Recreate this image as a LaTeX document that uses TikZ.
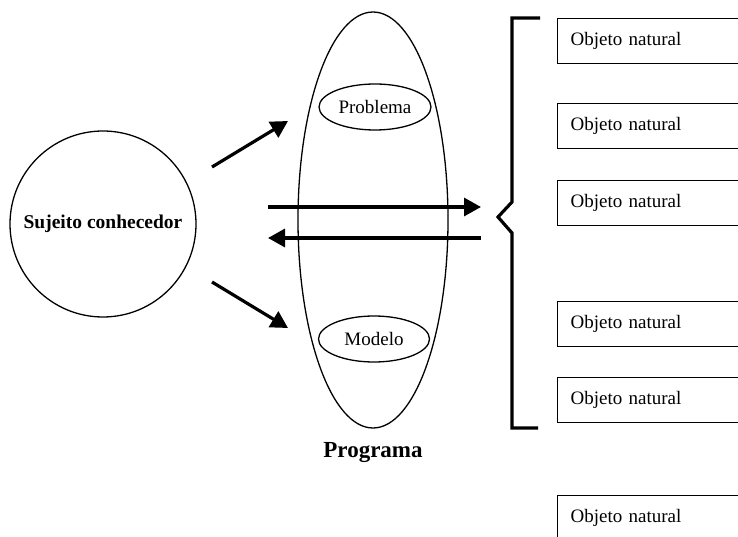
\documentclass[tikz,border=0pt]{standalone}
\usepackage{fontspec}
\setmainfont{Liberation Serif}
\usetikzlibrary{arrows.meta,shapes.geometric}
\begin{document}
\begin{tikzpicture}[x=1pt,y=-1pt,
  thinline/.style={line width=1.3pt},
  bigarrow/.style={line width=3.2pt,-{Triangle[length=17pt,width=18pt]}},
  objbox/.style={draw,line width=1.3pt,rectangle,anchor=north west,minimum height=45pt,text width=224pt,inner xsep=13pt,align=left,font=\fontsize{19}{22}\selectfont},
  oval/.style={draw,thinline,ellipse,inner sep=0pt,font=\fontsize{19}{22}\selectfont}]
\useasboundingbox (0,0) rectangle (738,537);
\clip (0,0) rectangle (738,537);

% knowing subject
\node[draw,thinline,circle,minimum size=186pt,inner sep=0pt,font=\bfseries\fontsize{19.5}{22}\selectfont] (subj) at (103,224) {Sujeito conhecedor};

% program ellipse
\node[oval,minimum width=150pt,minimum height=416pt] (prog) at (373,220) {};
\node[oval,minimum width=112pt,minimum height=46pt] (prob) at (375,107) {Problema};
\node[oval,minimum width=111pt,minimum height=46pt] (mod) at (374,339) {Modelo};
\node[font=\bfseries\fontsize{23}{26}\selectfont] (plabel) at (373,453) {Programa};

% arrows
\coordinate (a1s) at (212,167);
\coordinate (a1e) at (288,121);
\coordinate (a2s) at (212,282);
\coordinate (a2e) at (288,328);
\coordinate (a3s) at (268,207);
\coordinate (a3e) at (481,207);
\coordinate (a4s) at (481,238);
\coordinate (a4e) at (268,238);
\draw[bigarrow] (a1s) -- (a1e);
\draw[bigarrow] (a2s) -- (a2e);
\draw[bigarrow] (a3s) -- (a3e);
\draw[bigarrow] (a4s) -- (a4e);

% brace
\coordinate (b1) at (540,18);
\coordinate (b2) at (512,18);
\coordinate (b3) at (512,202);
\coordinate (btip) at (498,217);
\coordinate (b4) at (512,233);
\coordinate (b5) at (512,428);
\coordinate (b6) at (538,428);
\draw[line width=3.2pt] (b1) -- (b2) -- (b3) -- (btip) -- (b4) -- (b5) -- (b6);

% natural objects
\node[objbox] (o1) at (557,18) {Objeto natural};
\node[objbox] (o2) at (557,103) {Objeto natural};
\node[objbox] (o3) at (557,180) {Objeto natural};
\node[objbox] (o4) at (557,301) {Objeto natural};
\node[objbox] (o5) at (557,377) {Objeto natural};
\node[objbox] (o6) at (557,495) {Objeto natural};
\end{tikzpicture}
\end{document}
